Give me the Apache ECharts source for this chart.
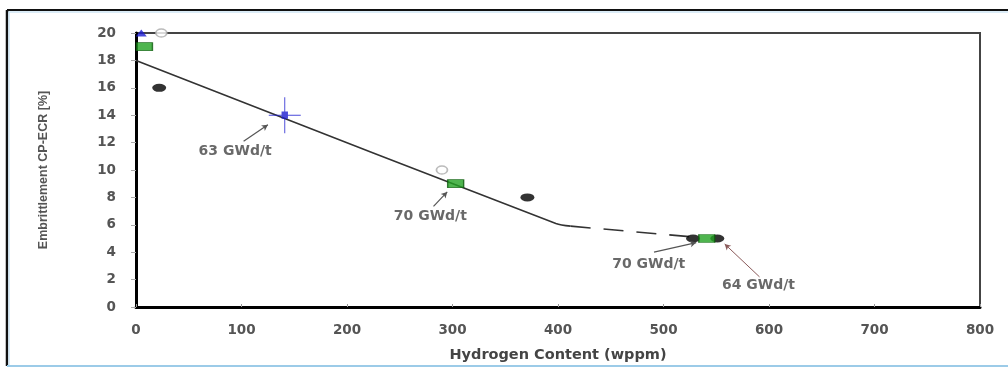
<!DOCTYPE html>
<html>
<head>
<meta charset="utf-8">
<script src="https://cdn.jsdelivr.net/npm/echarts@6/dist/echarts.min.js"></script>
<style>html,body{margin:0;padding:0;background:#fff}#c{width:1008px;height:368px}</style>
</head>
<body>
<div id="c"></div>
<script>
// ---- data ----
const xTicks = [0, 100, 200, 300, 400, 500, 600, 700, 800];
const yTicks = [0, 2, 4, 6, 8, 10, 12, 14, 16, 18, 20];
const blackX = [22, 371, 528, 551];
const blackY = [16, 8, 5, 5];
const greenX = [8, 303, 541];
const greenY = [19, 9, 5];
const blueCrossX = [141];
const blueCrossY = [14];
const blueTriX = [5];
const blueTriY = [20];
const grayOpenX = [24, 290];
const grayOpenY = [20, 10];
const trendSolidX = [0, 398, 412];
const trendSolidY = [18, 6.1, 5.9];
const trendDashX = [412, 530];
const trendDashY = [5.9, 5.1];
const noteText = ['63 GWd/t', '70 GWd/t', '70 GWd/t', '64 GWd/t'];
const noteX = [94, 279, 486, 590];
const noteY = [11.35, 6.6, 3.1, 1.6];
const arrowFromX = [102, 282, 491, 591];
const arrowFromY = [12.1, 7.35, 4.0, 2.2];
const arrowToX = [125, 295, 531, 558];
const arrowToY = [13.3, 8.4, 4.7, 4.6];

const zip = (xs, ys) => xs.map((x, i) => [x, ys[i]]);
const lblFont = {fontFamily: 'DejaVu Sans', fontWeight: 'bold', fontSize: 13.5, color: '#555'};

const chart = echarts.init(document.getElementById('c'));
chart.setOption({
  animation: false,
  backgroundColor: '#fff',
  graphic: [
    {type: 'line', shape: {x1: 7, y1: 10, x2: 1008, y2: 10}, style: {stroke: '#111', lineWidth: 2}},
    {type: 'line', shape: {x1: 8, y1: 12, x2: 1008, y2: 12}, style: {stroke: '#cfe6f5', lineWidth: 1.5}},
    {type: 'line', shape: {x1: 7, y1: 10, x2: 7, y2: 366}, style: {stroke: '#111', lineWidth: 2.5}},
    {type: 'line', shape: {x1: 9, y1: 12, x2: 9, y2: 366}, style: {stroke: '#cfe6f5', lineWidth: 1.5}},
    {type: 'line', shape: {x1: 7, y1: 366, x2: 1008, y2: 366}, style: {stroke: '#9ccbe8', lineWidth: 2}}
  ],
  grid: {left: 136, right: 28, top: 33, bottom: 55, show: true, borderColor: '#444', borderWidth: 2, backgroundColor: 'transparent'},
  xAxis: {
    type: 'value', min: 0, max: 800, interval: 100,
    name: 'Hydrogen Content (wppm)', nameLocation: 'middle', nameGap: 41,
    nameTextStyle: {fontFamily: 'DejaVu Sans', fontWeight: 'bold', fontSize: 14.5, color: '#444'},
    axisLine: {show: true, lineStyle: {color: '#000', width: 3}},
    axisTick: {show: true, inside: true, length: 3, lineStyle: {color: '#999'}},
    axisLabel: Object.assign({margin: 16, formatter: v => xTicks.includes(v) ? String(v) : ''}, lblFont),
    splitLine: {show: false}
  },
  yAxis: {
    type: 'value', min: 0, max: 20, interval: 2,
    name: 'Embrittlement CP-ECR [%]', nameLocation: 'middle', nameGap: 86,
    nameTextStyle: {fontFamily: 'Liberation Sans Narrow, Liberation Sans', fontWeight: 'bold', fontSize: 12.5, color: '#555'},
    axisLine: {show: true, lineStyle: {color: '#000', width: 3}},
    axisTick: {show: true, length: 5, lineStyle: {color: '#aaa'}},
    axisLabel: Object.assign({margin: 20, formatter: v => yTicks.includes(v) ? String(v) : ''}, lblFont),
    splitLine: {show: false}
  },
  series: [
    {type: 'line', data: zip(trendSolidX, trendSolidY), smooth: 0.3, symbol: 'none', z: 2,
     lineStyle: {color: '#333', width: 1.6}},
    {type: 'line', data: zip(trendDashX, trendDashY), symbol: 'none', z: 2,
     lineStyle: {color: '#333', width: 1.6, type: [20, 13]}},
    {type: 'scatter', data: zip(grayOpenX, grayOpenY), symbol: 'circle', symbolSize: [11, 8], z: 3,
     itemStyle: {color: '#fff', borderColor: '#aaa', borderWidth: 1.5}},
    {type: 'scatter', data: zip(blackX, blackY), symbol: 'circle', symbolSize: [14, 8], z: 4,
     itemStyle: {color: '#000'}},
    {type: 'scatter', data: zip(greenX, greenY), symbol: 'rect', symbolSize: [16, 8], z: 5,
     itemStyle: {color: '#23a323', borderColor: '#0c5a0c', borderWidth: 1}},
    {type: 'scatter', data: zip(blueCrossX, blueCrossY), z: 6,
     symbol: 'path://M19.4,0 L20.6,0 L20.6,40 L19.4,40 Z M0,19.4 L40,19.4 L40,20.6 L0,20.6 Z M16,16 L24,16 L24,24 L16,24 Z',
     symbolSize: [32, 36], itemStyle: {color: '#1c1cd0'}},
    {type: 'scatter', data: zip(blueTriX, blueTriY), symbol: 'triangle', symbolSize: [11, 7], z: 6,
     itemStyle: {color: '#1c1cd0'}},
    {type: 'scatter', z: 7, symbolSize: 0, silent: true,
     data: noteText.map((t, i) => ({name: t, value: [noteX[i], noteY[i]]})),
     label: Object.assign({show: true, position: 'inside', formatter: p => p.name}, lblFont, {color: '#444', fontSize: 14}),
     markLine: {
       silent: true, symbol: ['none', 'arrow'], symbolSize: [5, 6],
       label: {show: false},
       lineStyle: {color: '#555', width: 1.2, type: 'solid'},
       data: arrowFromX.map((x, i) => [
         {coord: [x, arrowFromY[i]]},
         {coord: [arrowToX[i], arrowToY[i]], lineStyle: i === 3 ? {color: '#8a5a5a', width: 1} : undefined}
       ])
     }}
  ]
});
</script>
</body>
</html>
